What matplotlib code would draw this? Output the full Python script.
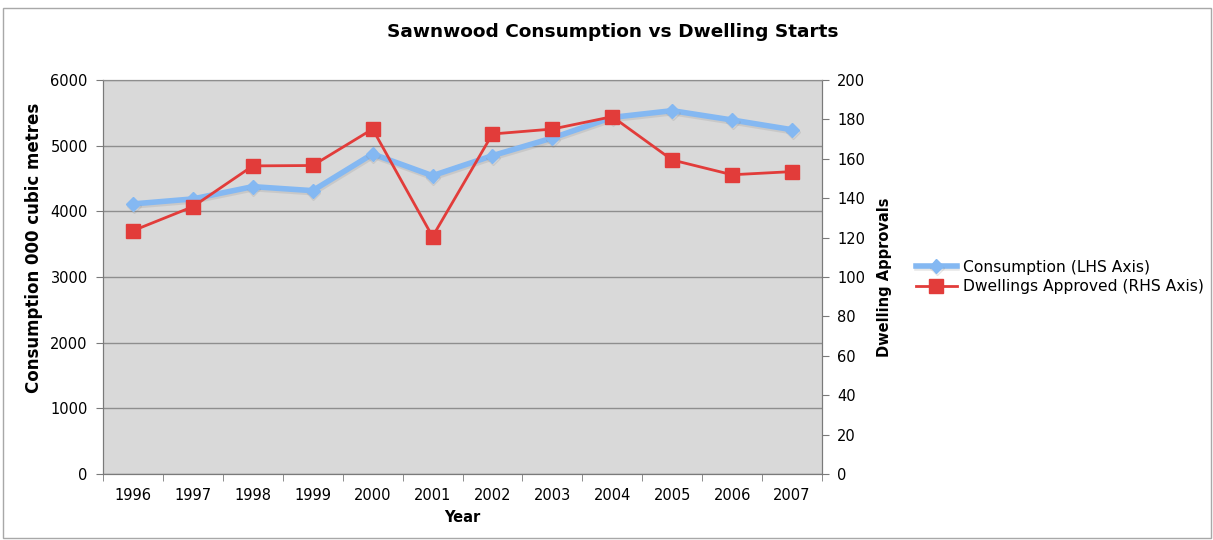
import matplotlib
matplotlib.use("Agg")
import matplotlib.pyplot as plt
import matplotlib.patheffects as pe
from matplotlib.patches import Rectangle

plt.rcParams['font.family'] = ['DejaVu Sans']

# Data
years = ['1996', '1997', '1998', '1999', '2000', '2001',
         '2002', '2003', '2004', '2005', '2006', '2007']
consumption = [4113, 4189, 4376, 4315, 4874, 4543,
               4848, 5117, 5431, 5533, 5391, 5243]
dwellings = [123.5, 135.7, 156.4, 156.6, 175.1, 120.5,
             172.6, 175.1, 181.4, 159.4, 151.9, 153.5]

blue = '#84b8f2'
red = '#e23c3a'
grid_col = '#8e8e8e'
spine_col = '#7a7a7a'

fig = plt.figure(figsize=(12.13, 5.4), dpi=100)
fig.patch.set_facecolor('white')

# thin frame around the whole chart
fig.patches.append(Rectangle((3 / 1213, 2 / 540), 1208 / 1213, 530 / 540,
                             transform=fig.transFigure, fill=False,
                             edgecolor='#a8a8a8', linewidth=1))

ax1 = fig.add_axes([103 / 1213, 66 / 540, 719 / 1213, 394 / 540])
ax1.set_facecolor('#d9d9d9')
x = range(len(years))

ax1.plot(x, consumption, color=blue, lw=4, marker='D', markersize=7,
         markeredgecolor=blue, label='Consumption (LHS Axis)', zorder=3,
         path_effects=[pe.SimpleLineShadow(offset=(0.5, -1.5), shadow_color='#888888', alpha=0.2),
                       pe.Normal()])
ax1.set_ylim(0, 6000)
ax1.set_yticks(range(0, 6001, 1000))
ax1.set_xlim(-0.5, len(years) - 0.5)
ax1.set_xticks(list(x))
ax1.set_xticklabels(years)
ax1.set_xticks([i - 0.5 for i in range(len(years) + 1)], minor=True)
ax1.tick_params(axis='x', which='major', length=0, pad=10, labelsize=10.5)
ax1.tick_params(axis='x', which='minor', length=5, color=spine_col)
ax1.tick_params(axis='y', length=5, color=spine_col, labelsize=10.5, pad=6)
ax1.grid(axis='y', color=grid_col, lw=1)
ax1.set_axisbelow(True)
ax1.set_xlabel('Year', fontsize=10.5, fontweight='bold', labelpad=5)
ax1.set_ylabel('Consumption 000 cubic metres', fontsize=12, fontweight='bold')
ax1.yaxis.set_label_coords(-0.083, 0.574)

ax2 = ax1.twinx()
ax2.plot(x, dwellings, color=red, lw=2, marker='s', markersize=10,
         markeredgecolor=red, label='Dwellings Approved (RHS Axis)', zorder=4)
ax2.set_ylim(0, 200)
ax2.set_yticks(range(0, 201, 20))
ax2.tick_params(axis='y', length=5, color=spine_col, labelsize=10.5, pad=6)
ax2.set_ylabel('Dwelling Approvals', fontsize=10.5, fontweight='bold', labelpad=8)

for ax in (ax1, ax2):
    for side in ('left', 'right', 'bottom'):
        ax.spines[side].set_color(spine_col)
    ax.spines['top'].set_color(grid_col)

fig.text(613 / 1213, 1 - 32 / 540, 'Sawnwood Consumption vs Dwelling Starts',
         ha='center', va='center', fontsize=13.3, fontweight='bold')

lines1, labels1 = ax1.get_legend_handles_labels()
lines2, labels2 = ax2.get_legend_handles_labels()
fig.legend(lines1 + lines2, labels1 + labels2, loc='center left',
           bbox_to_anchor=(910 / 1213, 1 - 277 / 540), frameon=False,
           fontsize=11.2, handlelength=2.6, handletextpad=0.4, labelspacing=0.3,
           borderaxespad=0)

fig.savefig('out.png', dpi=100)
